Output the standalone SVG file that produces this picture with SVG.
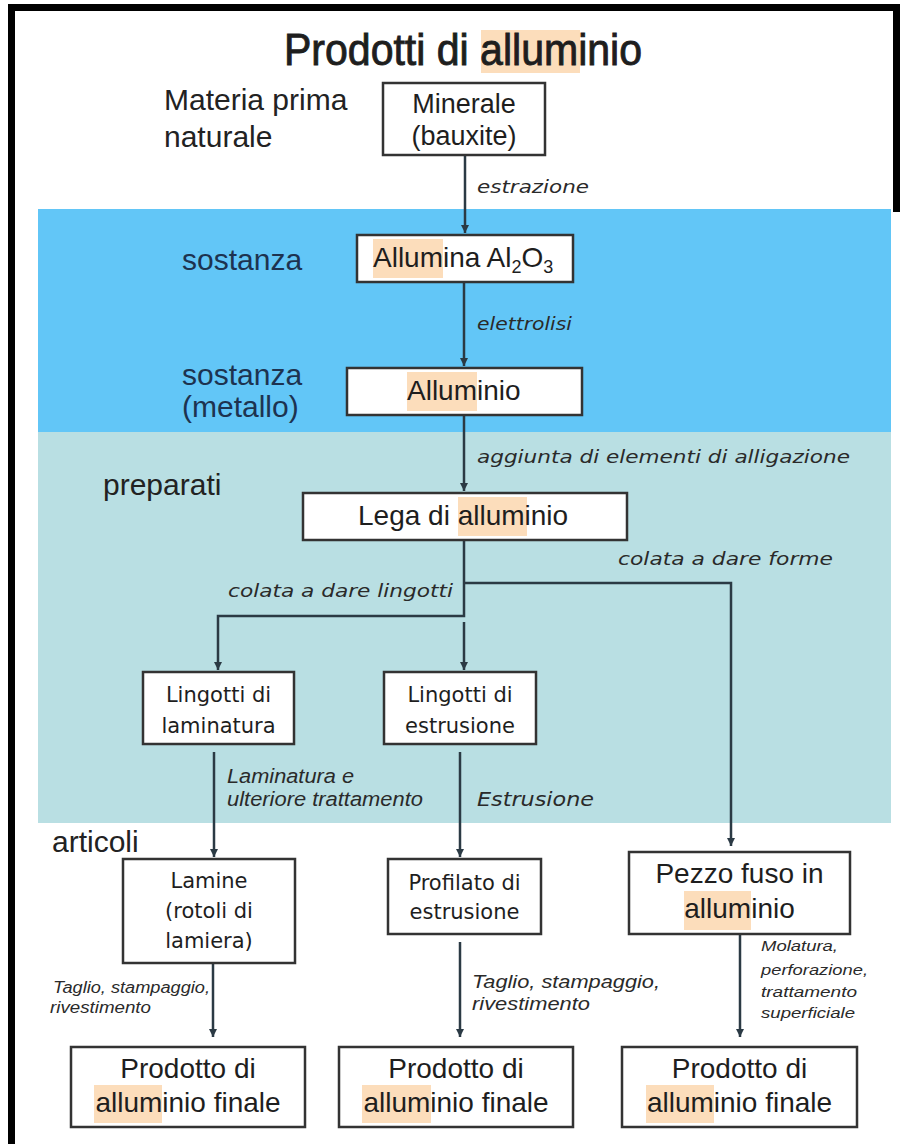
<svg xmlns="http://www.w3.org/2000/svg" width="902" height="1144" viewBox="0 0 902 1144">
<defs>
<marker id="arr" markerWidth="10" markerHeight="10" refX="8" refY="4" orient="auto" markerUnits="userSpaceOnUse"><path d="M0,0 L8,4 L0,8 z" fill="#2b3a44"/></marker>
<style>
.box{fill:#fff;stroke:#333;stroke-width:2.5}
.hl{fill:#FCDDBB}
.a{font-family:"Liberation Sans",Arial,sans-serif;fill:#1e1e1e}
.d{font-family:"DejaVu Sans",Verdana,sans-serif;fill:#1e1e1e}
.lbl{font-family:"DejaVu Sans",Verdana,sans-serif;font-style:italic;fill:#2a2a2a}
.ai{font-family:"Liberation Sans",Arial,sans-serif;font-style:italic;fill:#2a2a2a}
.c{text-anchor:middle}
.ln{fill:none;stroke:#2b3a44;stroke-width:2.5}
.sec{font-family:"Liberation Sans",Arial,sans-serif;font-size:30px;fill:#222}
.navy{fill:#1d3350}
</style>
</defs>
<rect width="902" height="1144" fill="#fff"/>
<g id="frame" fill="#000">
<rect x="8" y="4" width="7" height="1140"/>
<rect x="8" y="4" width="892" height="7"/>
<rect x="893" y="4" width="7" height="208"/>
</g>
<g id="bands">
<rect x="38" y="209" width="853" height="223" fill="#62C6F7"/>
<rect x="38" y="432" width="853" height="391" fill="#B9DFE3"/>
</g>
<g id="title">
<rect class="hl" x="481" y="30" width="99" height="43"/>
<text class="a c" x="463" y="65" font-size="44" stroke="#1e1e1e" stroke-width="0.9" textLength="358" lengthAdjust="spacingAndGlyphs">Prodotti di alluminio</text>
</g>
<g id="section-labels">
<text class="sec" x="164" y="110">Materia prima</text>
<text class="sec" x="164" y="147">naturale</text>
<text class="sec navy" x="182" y="270">sostanza</text>
<text class="sec navy" x="182" y="385">sostanza</text>
<text class="sec navy" x="182" y="417">(metallo)</text>
<text class="sec" x="103" y="495">preparati</text>
<text class="sec" x="52" y="852">articoli</text>
</g>
<g id="connectors">
<path class="ln" marker-end="url(#arr)" d="M465,155 V233"/>
<path class="ln" marker-end="url(#arr)" d="M464,282 V366"/>
<path class="ln" marker-end="url(#arr)" d="M464,415 V491"/>
<path class="ln" marker-end="url(#arr)" d="M464,540 V616 H218 V670"/>
<path class="ln" marker-end="url(#arr)" d="M464,583 H731 V846"/>
<path class="ln" marker-end="url(#arr)" d="M464,622 V670"/>
<path class="ln" marker-end="url(#arr)" d="M214,752 V857"/>
<path class="ln" marker-end="url(#arr)" d="M460,752 V857"/>
<path class="ln" marker-end="url(#arr)" d="M740,934 V1037"/>
<path class="ln" marker-end="url(#arr)" d="M460,942 V1037"/>
<path class="ln" marker-end="url(#arr)" d="M213,946 V1037"/>
</g>
<g id="connector-labels">
<text class="lbl" x="477" y="193" font-size="17" textLength="112" lengthAdjust="spacingAndGlyphs">estrazione</text>
<text class="lbl" x="477" y="330" font-size="17" textLength="95" lengthAdjust="spacingAndGlyphs">elettrolisi</text>
<text class="lbl" x="477" y="463" font-size="17" textLength="373" lengthAdjust="spacingAndGlyphs">aggiunta di elementi di alligazione</text>
<text class="lbl" x="618" y="565" font-size="17" textLength="215" lengthAdjust="spacingAndGlyphs">colata a dare forme</text>
<text class="lbl" x="228" y="597" font-size="17" textLength="225" lengthAdjust="spacingAndGlyphs">colata a dare lingotti</text>
<text class="ai" x="227" y="783" font-size="20" textLength="127" lengthAdjust="spacingAndGlyphs">Laminatura e</text>
<text class="ai" x="227" y="806" font-size="20" textLength="196" lengthAdjust="spacingAndGlyphs">ulteriore trattamento</text>
<text class="lbl" x="477" y="806" font-size="19" textLength="117" lengthAdjust="spacingAndGlyphs">Estrusione</text>
<text class="ai" x="53" y="993" font-size="16" textLength="157" lengthAdjust="spacingAndGlyphs">Taglio, stampaggio,</text>
<text class="ai" x="50" y="1013" font-size="16" textLength="101" lengthAdjust="spacingAndGlyphs">rivestimento</text>
<text class="ai" x="472" y="988" font-size="18" textLength="188" lengthAdjust="spacingAndGlyphs">Taglio, stampaggio,</text>
<text class="ai" x="472" y="1010" font-size="18" textLength="118" lengthAdjust="spacingAndGlyphs">rivestimento</text>
<text class="ai" x="761" y="951" font-size="15" textLength="77" lengthAdjust="spacingAndGlyphs">Molatura,</text>
<text class="ai" x="761" y="975" font-size="15" textLength="107" lengthAdjust="spacingAndGlyphs">perforazione,</text>
<text class="ai" x="761" y="997" font-size="15" textLength="96" lengthAdjust="spacingAndGlyphs">trattamento</text>
<text class="ai" x="761" y="1018" font-size="15" textLength="94" lengthAdjust="spacingAndGlyphs">superficiale</text>
</g>
<g id="n-minerale">
<rect class="box" x="383" y="83" width="162" height="72"/>
<text class="a c" x="464" y="113" font-size="27">Minerale</text>
<text class="a c" x="464" y="145" font-size="27">(bauxite)</text>
</g>
<g id="n-allumina">
<rect class="box" x="357" y="235" width="216" height="47"/>
<rect class="hl" x="373" y="239" width="70" height="39"/>
<text class="a" x="373" y="267" font-size="28">Allumina Al<tspan font-size="18" dy="6">2</tspan><tspan dy="-6">O</tspan><tspan font-size="18" dy="6">3</tspan></text>
</g>
<g id="n-alluminio">
<rect class="box" x="347" y="368" width="235" height="47"/>
<rect class="hl" x="407" y="372" width="70" height="39"/>
<text class="a" x="407" y="400" font-size="28">Alluminio</text>
</g>
<g id="n-lega">
<rect class="box" x="303" y="493" width="324" height="47"/>
<rect class="hl" x="458" y="497" width="69" height="39"/>
<text class="a" x="358" y="525" font-size="28">Lega di alluminio</text>
</g>
<g id="n-lingotti-lam">
<rect class="box" x="143" y="672" width="151" height="72"/>
<text class="d c" x="218.5" y="702" font-size="21">Lingotti di</text>
<text class="d c" x="218.5" y="733" font-size="21">laminatura</text>
</g>
<g id="n-lingotti-estr">
<rect class="box" x="384" y="672" width="152" height="72"/>
<text class="d c" x="460" y="702" font-size="21">Lingotti di</text>
<text class="d c" x="460" y="733" font-size="21">estrusione</text>
</g>
<g id="n-lamine">
<rect class="box" x="123" y="859" width="172" height="104"/>
<text class="d c" x="209" y="888" font-size="21">Lamine</text>
<text class="d c" x="209" y="918" font-size="21">(rotoli di</text>
<text class="d c" x="209" y="948" font-size="21">lamiera)</text>
</g>
<g id="n-profilato">
<rect class="box" x="388" y="859" width="153" height="75"/>
<text class="d c" x="464.5" y="890" font-size="21">Profilato di</text>
<text class="d c" x="464.5" y="919" font-size="21">estrusione</text>
</g>
<g id="n-pezzo">
<rect class="box" x="629" y="852" width="221" height="82"/>
<rect class="hl" x="684" y="891" width="67" height="39"/>
<text class="a c" x="739.5" y="883" font-size="28">Pezzo fuso in</text>
<text class="a c" x="739.5" y="918" font-size="28">alluminio</text>
</g>
<g id="n-prodotto-1">
<rect class="box" x="71" y="1047" width="234" height="80"/>
<rect class="hl" x="94" y="1085" width="68" height="38"/>
<text class="a c" x="188" y="1078" font-size="28">Prodotto di</text>
<text class="a c" x="188" y="1112" font-size="28">alluminio finale</text>
</g>
<g id="n-prodotto-2">
<rect class="box" x="339" y="1047" width="234" height="80"/>
<rect class="hl" x="362" y="1085" width="69" height="38"/>
<text class="a c" x="456" y="1078" font-size="28">Prodotto di</text>
<text class="a c" x="456" y="1112" font-size="28">alluminio finale</text>
</g>
<g id="n-prodotto-3">
<rect class="box" x="622" y="1047" width="235" height="80"/>
<rect class="hl" x="646" y="1085" width="68" height="38"/>
<text class="a c" x="739.5" y="1078" font-size="28">Prodotto di</text>
<text class="a c" x="739.5" y="1112" font-size="28">alluminio finale</text>
</g>
</svg>
